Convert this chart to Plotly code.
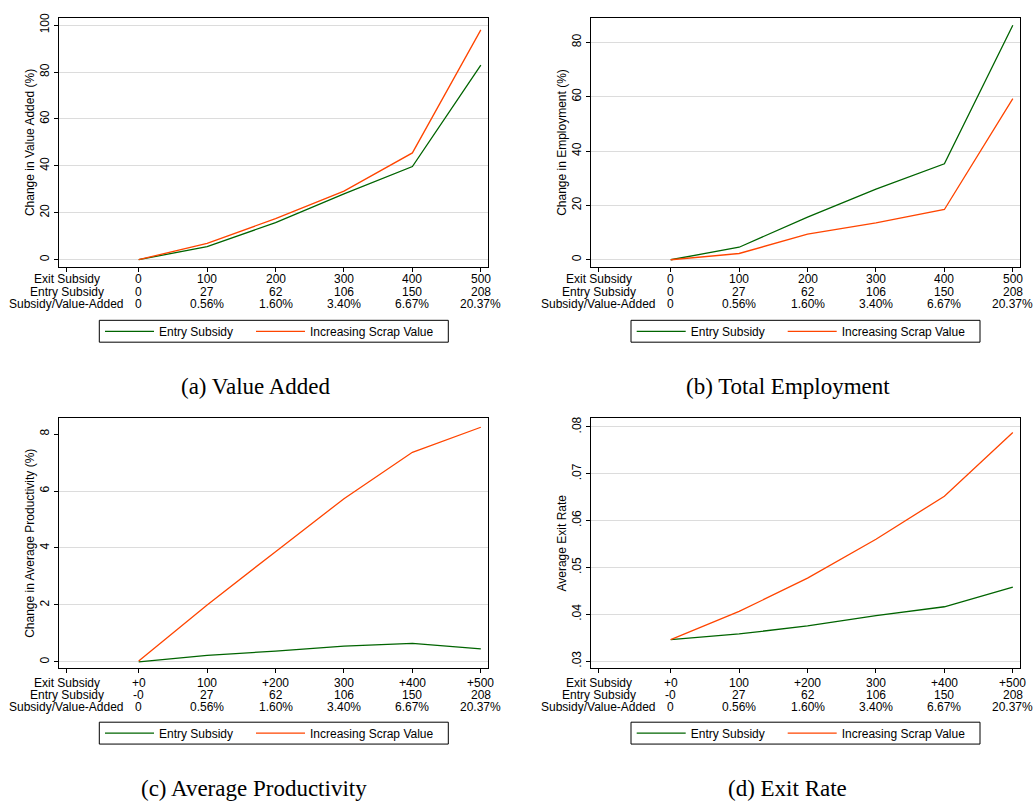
import plotly.graph_objects as go

# ---------------- data ----------------
exit_subsidy = [0, 100, 200, 300, 400, 500]

row_names = ["Exit Subsidy", "Entry Subsidy", "Subsidy/Value-Added"]
exit_labels_top = ["0", "100", "200", "300", "400", "500"]
exit_labels_bot = ["+0", "100", "+200", "300", "+400", "+500"]
entry_labels_top = ["0", "27", "62", "106", "150", "208"]
entry_labels_bot = ["-0", "27", "62", "106", "150", "208"]
ratio_labels = ["0", "0.56%", "1.60%", "3.40%", "6.67%", "20.37%"]
label_col_x = -105

va_entry = [0, 5.5, 15.8, 28.0, 39.7, 82.9]
va_scrap = [0, 6.9, 17.5, 29.2, 45.5, 98.0]

emp_entry = [0, 4.6, 15.7, 26.0, 35.3, 86.3]
emp_scrap = [0, 2.3, 9.4, 13.6, 18.5, 59.3]

prod_entry = [0, 0.23, 0.38, 0.55, 0.65, 0.46]
prod_scrap = [0.03, 2.0, 3.87, 5.73, 7.36, 8.24]

exit_entry = [0.0346, 0.0358, 0.0375, 0.0397, 0.0416, 0.0458]
exit_scrap = [0.0346, 0.0406, 0.0477, 0.0560, 0.0652, 0.0788]

va_ticks = [0, 20, 40, 60, 80, 100]
emp_ticks = [0, 20, 40, 60, 80]
prod_ticks = [0, 2, 4, 6, 8]
exit_ticks = [0.03, 0.04, 0.05, 0.06, 0.07, 0.08]
exit_ticktext = [".03", ".04", ".05", ".06", ".07", ".08"]

series_names = ["Entry Subsidy", "Increasing Scrap Value"]
captions = ["(a) Value Added", "(b) Total Employment", "(c) Average Productivity", "(d) Exit Rate"]
ytitles = ["Change in Value Added (%)", "Change in Employment (%)",
           "Change in Average Productivity (%)", "Average Exit Rate"]

# ---------------- style / layout ----------------
W, H = 1033, 802
GREEN = "#006400"
ORANGE = "#ff4500"
GRID = "#dcdcdc"
SANS = "Liberation Sans, Arial, sans-serif"
SERIF = "Liberation Serif, Times New Roman, serif"


def fx(p):
    return p / W


def fy(p):
    return 1 - p / H


panels = [
    dict(entry=va_entry, scrap=va_scrap, x=(59, 488), y=(12.7, 264), yr=[-3.3, 103.2],
         ticks=va_ticks, ticktext=[str(t) for t in va_ticks], grid=va_ticks,
         rows=(276.2, 288.8, 301.3), exitl=exit_labels_top, entl=entry_labels_top,
         leg=(99.3, 317.3), cap=(255.5, 383.5)),
    dict(entry=emp_entry, scrap=emp_scrap, x=(591, 1020), y=(12.7, 264), yr=[-2.8, 89.1],
         ticks=emp_ticks, ticktext=[str(t) for t in emp_ticks], grid=emp_ticks,
         rows=(276.2, 288.8, 301.3), exitl=exit_labels_top, entl=entry_labels_top,
         leg=(631, 317.3), cap=(787.5, 383.5)),
    dict(entry=prod_entry, scrap=prod_scrap, x=(59, 488), y=(416, 667.3), yr=[-0.22, 8.55],
         ticks=prod_ticks, ticktext=[str(t) for t in prod_ticks], grid=prod_ticks[:-1],
         rows=(682.3, 694.3, 706.3), exitl=exit_labels_bot, entl=entry_labels_bot,
         leg=(99.3, 721.7), cap=(254, 788.5)),
    dict(entry=exit_entry, scrap=exit_scrap, x=(591, 1020), y=(416, 667.3), yr=[0.0285, 0.0818],
         ticks=exit_ticks, ticktext=exit_ticktext, grid=exit_ticks,
         rows=(682.3, 694.3, 706.3), exitl=exit_labels_bot, entl=entry_labels_bot,
         leg=(631, 721.7), cap=(787.5, 788.5)),
]

LEG_W, LEG_H = 349, 22
ITEM_W = 49            # legend symbol area
ENTRY_W = [87, 130]    # legend entry widths (px)

fig = go.Figure()
annotations = []
shapes = []
layout = dict(
    width=W, height=H, margin=dict(l=0, r=0, t=0, b=0),
    paper_bgcolor="white", plot_bgcolor="white",
    font=dict(family=SANS, size=12, color="black"),
    showlegend=True,
)

for i, p in enumerate(panels):
    n = "" if i == 0 else str(i + 1)
    xa, ya = "x" + n, "y" + n
    leg = "legend" + n
    for k, (vals, col) in enumerate(((p["entry"], GREEN), (p["scrap"], ORANGE))):
        fig.add_trace(go.Scatter(x=exit_subsidy, y=vals, mode="lines", name=series_names[k],
                                 line=dict(color=col, width=1.3), xaxis=xa, yaxis=ya,
                                 legend=leg, legendwidth=ENTRY_W[k], hoverinfo="skip"))
    layout["xaxis" + n] = dict(
        domain=[fx(p["x"][0]), fx(p["x"][1])], anchor=ya, range=[-116.5, 510.5],
        tickmode="array", tickvals=[label_col_x] + exit_subsidy, showticklabels=False,
        ticks="outside", ticklen=4, tickcolor="black", tickwidth=1,
        showline=True, linecolor="black", linewidth=1, mirror=True,
        showgrid=False, zeroline=False, fixedrange=True)
    layout["yaxis" + n] = dict(
        domain=[fy(p["y"][1]), fy(p["y"][0])], anchor=xa, range=p["yr"],
        tickmode="array", tickvals=p["ticks"], ticktext=p["ticktext"], tickangle=-90,
        ticks="outside", ticklen=4, tickcolor="black", tickwidth=1,
        tickfont=dict(size=12),
        showline=True, linecolor="black", linewidth=1, mirror=True,
        showgrid=False, zeroline=False, fixedrange=True,
        minor=dict(tickmode="array", tickvals=p["grid"], showgrid=True, gridcolor=GRID,
                   gridwidth=1.2, ticks=""),
        title=dict(text=ytitles[i], font=dict(size=12), standoff=0))

    # legend: native entries, framed box
    lx, ly = p["leg"]
    item_center = ly + LEG_H / 2
    layout[leg] = dict(
        x=fx(lx + 0.7), y=fy(item_center - 14.5), xanchor="left", yanchor="top",
        orientation="h", borderwidth=0, bgcolor="rgba(0,0,0,0)",
        font=dict(size=12), itemwidth=ITEM_W, entrywidthmode="pixels")
    shapes.append(dict(type="rect", xref="paper", yref="paper",
                       x0=fx(lx), x1=fx(lx + LEG_W), y0=fy(ly + LEG_H), y1=fy(ly),
                       line=dict(color="black", width=1), fillcolor="rgba(0,0,0,0)"))

    # the three-row x-axis labels
    cols = [label_col_x] + exit_subsidy
    rows = [
        [row_names[0]] + p["exitl"],
        [row_names[1]] + p["entl"],
        [row_names[2]] + ratio_labels,
    ]
    for r, ypix in enumerate(p["rows"]):
        for xv, txt in zip(cols, rows[r]):
            annotations.append(dict(x=xv, xref=xa, y=fy(ypix), yref="paper", text=txt,
                                    showarrow=False, xanchor="center", yanchor="middle",
                                    font=dict(size=12, family=SANS), borderpad=0))
    annotations.append(dict(x=fx(p["cap"][0]), y=fy(p["cap"][1]), xref="paper", yref="paper",
                            text=captions[i], showarrow=False, xanchor="center", yanchor="middle",
                            font=dict(size=23, family=SERIF)))

layout["annotations"] = annotations
layout["shapes"] = shapes
fig.update_layout(**layout)
fig.write_html("out.html")
